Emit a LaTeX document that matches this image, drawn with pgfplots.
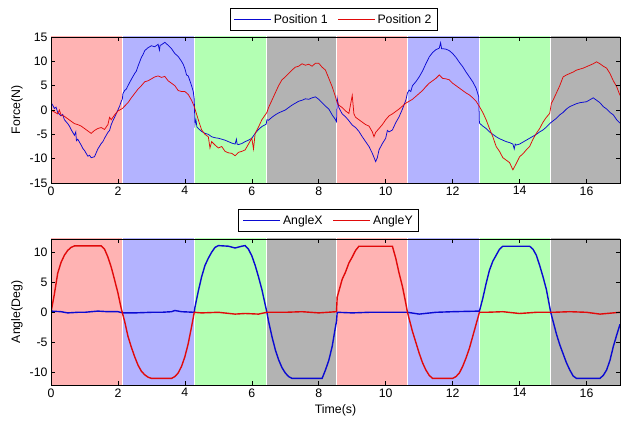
\documentclass[border=0pt]{standalone}
\usepackage{pgfplots}
\pgfplotsset{compat=1.18}
\usepackage{fontspec}
\setmainfont{Liberation Sans}
\definecolor{bandR}{RGB}{255,179,179}
\definecolor{bandB}{RGB}{179,179,255}
\definecolor{bandG}{RGB}{179,255,179}
\definecolor{bandK}{RGB}{179,179,179}
\definecolor{lineB}{RGB}{10,10,210}
\definecolor{lineR}{RGB}{225,10,10}
\newcommand{\fs}{\fontsize{12.3}{14}\selectfont}
\pgfplotsset{
  mystyle/.style={
    scale only axis, width=569pt, height=146pt,
    xmin=0, xmax=17, xtick={0,2,...,16},
    tick align=inside, major tick length=4pt,
    axis line style={line width=0.6pt},
    tick style={black, line width=0.6pt},
    ticklabel style={font=\fs},
    label style={font=\fs},
    /pgf/number format/assume math mode=true,
    axis on top, clip=true,
    legend columns=-1,
    legend image code/.code={\draw[##1] (0pt,0pt) -- (37pt,0pt);},
    legend style={font=\fs, draw=black, line width=0.6pt, fill=white,
      inner xsep=4pt, inner ysep=4pt,
      /tikz/every even column/.append style={column sep=8pt}},
    ylabel style={at={(axis description cs:-0.06,0.5)}, anchor=center},
  }
}
\begin{document}
\begin{tikzpicture}
\path[use as bounding box] (0pt,0pt) rectangle (621pt,423pt);
% ---------------- top axis ----------------
\begin{axis}[mystyle, at={(51pt,240pt)}, anchor=south west,
  ymin=-15, ymax=15, ytick={-15,-10,...,15},
  ylabel={Force(N)},
  legend style={at={(axis description cs:0.497,1.041)}, anchor=south}]
\addplot[fill=bandR, draw=none, forget plot] coordinates {(0,-20) (0,20) (2.13,20) (2.13,-20)} -- cycle;
\addplot[fill=bandB, draw=none, forget plot] coordinates {(2.13,-20) (2.13,20) (4.29,20) (4.29,-20)} -- cycle;
\addplot[fill=bandG, draw=none, forget plot] coordinates {(4.29,-20) (4.29,20) (6.45,20) (6.45,-20)} -- cycle;
\addplot[fill=bandK, draw=none, forget plot] coordinates {(6.45,-20) (6.45,20) (8.53,20) (8.53,-20)} -- cycle;
\addplot[fill=bandR, draw=none, forget plot] coordinates {(8.53,-20) (8.53,20) (10.65,20) (10.65,-20)} -- cycle;
\addplot[fill=bandB, draw=none, forget plot] coordinates {(10.65,-20) (10.65,20) (12.8,20) (12.8,-20)} -- cycle;
\addplot[fill=bandG, draw=none, forget plot] coordinates {(12.8,-20) (12.8,20) (14.93,20) (14.93,-20)} -- cycle;
\addplot[fill=bandK, draw=none, forget plot] coordinates {(14.93,-20) (14.93,20) (17,20) (17,-20)} -- cycle;
\addplot[white, line width=1.2pt, forget plot] coordinates {(2.13,-20) (2.13,20)};
\addplot[white, line width=1.2pt, forget plot] coordinates {(4.29,-20) (4.29,20)};
\addplot[white, line width=1.2pt, forget plot] coordinates {(6.45,-20) (6.45,20)};
\addplot[white, line width=1.2pt, forget plot] coordinates {(8.53,-20) (8.53,20)};
\addplot[white, line width=1.2pt, forget plot] coordinates {(10.65,-20) (10.65,20)};
\addplot[white, line width=1.2pt, forget plot] coordinates {(12.8,-20) (12.8,20)};
\addplot[white, line width=1.2pt, forget plot] coordinates {(14.93,-20) (14.93,20)};
% Position 1
\addplot[lineB, line width=0.75pt] coordinates {
(0.00,1.5) (0.05,1.0) (0.1,0.3) (0.15,0.6) (0.2,-0.5) (0.3,-1.2) (0.35,-0.9) (0.4,-2.0) (0.5,-2.8) (0.55,-3.3) (0.6,-4.0) (0.7,-5.2) (0.74,-4.5) (0.76,-6.3) (0.8,-6.0) (0.9,-7.2) (0.95,-7.9) (1.0,-8.3) (1.05,-8.9) (1.1,-9.5) (1.15,-9.3) (1.2,-9.8) (1.3,-9.6) (1.35,-8.8) (1.4,-8.0) (1.5,-6.9) (1.55,-6.5) (1.6,-5.8) (1.7,-4.6) (1.75,-4.2) (1.8,-3.0) (1.85,-2.2) (1.9,-1.5) (2.0,0.0) (2.05,0.8) (2.1,1.8) (2.13,2.2)
(2.15,3.4) (2.2,4.0) (2.25,4.3) (2.3,5.0) (2.4,6.3) (2.5,7.5) (2.55,8.0) (2.6,9.0) (2.7,10.8) (2.75,11.4) (2.8,12.2) (2.9,12.8) (3.0,13.2) (3.1,13.0) (3.2,13.5) (3.24,12.3) (3.26,13.3) (3.3,13.4) (3.4,13.9) (3.45,13.6) (3.5,13.3) (3.6,12.6) (3.7,11.6) (3.8,11.0) (3.9,10.0) (3.95,9.4) (4.0,8.5) (4.05,7.2) (4.1,7.0) (4.15,6.0) (4.2,5.0) (4.25,3.8) (4.28,2.2)
(4.3,-3.0) (4.33,-2.0) (4.36,-3.5) (4.4,-3.8) (4.5,-4.4) (4.6,-4.8) (4.7,-5.0) (4.8,-5.5) (4.9,-5.7) (5.0,-5.8) (5.1,-6.0) (5.2,-6.2) (5.3,-6.5) (5.4,-6.8) (5.5,-7.0) (5.54,-6.0) (5.56,-7.0) (5.6,-7.1) (5.7,-6.9) (5.8,-6.5) (5.9,-6.2) (6.0,-5.8) (6.1,-4.8) (6.2,-4.0) (6.3,-3.4) (6.43,-2.9)
(6.45,-2.0) (6.5,-2.1) (6.6,-1.5) (6.7,-1.0) (6.8,-0.6) (6.9,-0.3) (7.0,0.0) (7.1,0.5) (7.2,1.0) (7.3,1.4) (7.4,1.8) (7.5,2.0) (7.6,2.3) (7.7,2.2) (7.8,2.5) (7.9,2.7) (8.0,2.2) (8.1,1.5) (8.2,0.8) (8.3,0.2) (8.4,-1.0) (8.5,-2.0) (8.53,-2.4)
(8.55,2.4) (8.6,0.5) (8.7,-0.8) (8.8,-1.4) (8.9,-2.2) (9.0,-3.1) (9.1,-3.6) (9.2,-4.4) (9.3,-5.5) (9.4,-6.5) (9.5,-7.5) (9.6,-8.9) (9.7,-10.6) (9.75,-9.8) (9.8,-8.2) (9.9,-6.9) (10.0,-5.8) (10.05,-4.2) (10.1,-4.5) (10.2,-4.1) (10.3,-2.6) (10.4,-1.4) (10.5,0.2) (10.6,2.0)
(10.65,3.5) (10.7,4.1) (10.75,3.8) (10.8,5.0) (10.9,5.8) (11.0,6.8) (11.1,8.0) (11.2,9.5) (11.3,10.9) (11.4,11.8) (11.5,12.4) (11.6,12.7) (11.64,13.8) (11.67,12.6) (11.7,12.6) (11.8,12.5) (11.9,12.2) (12.0,11.6) (12.1,10.8) (12.2,9.8) (12.3,8.9) (12.4,7.8) (12.5,6.8) (12.6,5.8) (12.7,4.5) (12.78,2.7)
(12.8,-2.7) (12.9,-3.3) (13.0,-3.8) (13.1,-4.5) (13.2,-5.0) (13.3,-5.5) (13.4,-5.9) (13.5,-6.2) (13.6,-6.5) (13.7,-6.7) (13.8,-7.0) (13.84,-8.0) (13.87,-7.0) (13.9,-7.2) (14.0,-7.0) (14.1,-6.6) (14.2,-6.2) (14.3,-5.8) (14.4,-5.4) (14.5,-5.0) (14.6,-4.5) (14.7,-4.1) (14.8,-3.5) (14.9,-2.8)
(14.95,-2.5) (15.1,-1.7) (15.2,-1.0) (15.3,-0.5) (15.4,0.2) (15.5,0.7) (15.6,1.0) (15.7,1.3) (15.8,1.5) (15.9,1.6) (16.0,1.7) (16.1,2.1) (16.2,2.5) (16.3,2.0) (16.4,1.5) (16.5,0.7) (16.6,0.2) (16.7,-0.5) (16.8,-1.0) (16.9,-2.0) (17.0,-2.7)
};
\addlegendentry{Position 1}
% Position 2
\addplot[lineR, line width=0.75pt] coordinates {
(0.0,0.0) (0.1,-0.4) (0.2,-0.8) (0.25,0.0) (0.3,-1.0) (0.4,-1.3) (0.5,-1.8) (0.6,-2.3) (0.7,-2.8) (0.8,-3.0) (0.9,-3.3) (1.0,-3.8) (1.1,-4.3) (1.2,-4.8) (1.3,-4.2) (1.4,-3.8) (1.5,-3.6) (1.6,-4.0) (1.7,-3.0) (1.75,-1.5) (1.8,-2.0) (1.9,-1.0) (2.0,-0.2) (2.13,0.3)
(2.2,0.8) (2.3,1.5) (2.4,2.5) (2.5,3.4) (2.6,4.3) (2.7,5.0) (2.8,5.8) (2.9,6.0) (3.0,6.4) (3.1,6.8) (3.2,7.0) (3.3,6.7) (3.4,6.9) (3.5,6.0) (3.6,5.5) (3.7,5.0) (3.8,4.0) (3.9,3.8) (4.0,3.8) (4.1,3.2) (4.2,2.0) (4.28,0.7)
(4.4,-2.0) (4.5,-4.1) (4.6,-5.0) (4.7,-5.5) (4.75,-7.8) (4.8,-6.5) (4.9,-7.2) (5.0,-7.8) (5.1,-7.5) (5.2,-8.5) (5.3,-8.8) (5.4,-8.9) (5.5,-9.4) (5.6,-8.7) (5.7,-8.5) (5.8,-8.2) (5.9,-7.0) (6.0,-5.8) (6.05,-8.0) (6.1,-4.8) (6.2,-3.5) (6.3,-2.0) (6.4,-1.0)
(6.45,-0.5) (6.5,0.5) (6.6,2.0) (6.7,3.5) (6.8,5.0) (6.9,6.2) (7.0,6.8) (7.1,7.5) (7.2,8.2) (7.3,8.8) (7.4,9.0) (7.5,9.5) (7.6,9.2) (7.7,9.4) (7.8,9.0) (7.9,9.6) (8.0,9.6) (8.1,8.8) (8.2,8.2) (8.3,6.5) (8.4,4.8) (8.5,2.7)
(8.55,1.5) (8.6,1.0) (8.7,0.5) (8.8,-0.2) (8.9,-0.7) (9.0,3.0) (9.05,-0.8) (9.1,-1.5) (9.2,-2.0) (9.3,-2.5) (9.4,-3.0) (9.5,-3.3) (9.6,-4.5) (9.65,-5.5) (9.7,-4.6) (9.8,-3.8) (9.9,-3.0) (10.0,-2.0) (10.1,-1.2) (10.2,-0.8) (10.3,-0.3) (10.4,0.2) (10.5,0.8) (10.6,1.4)
(10.7,1.8) (10.8,2.2) (10.9,2.8) (11.0,3.4) (11.1,4.0) (11.2,4.8) (11.3,5.5) (11.4,6.0) (11.5,6.5) (11.6,7.2) (11.7,6.5) (11.8,6.4) (11.9,6.2) (12.0,5.5) (12.1,5.0) (12.2,4.5) (12.3,4.0) (12.4,3.5) (12.5,3.1) (12.6,2.5) (12.7,1.8) (12.8,0.7)
(12.9,-0.5) (13.0,-2.0) (13.1,-3.8) (13.2,-5.5) (13.3,-7.5) (13.4,-8.5) (13.5,-9.8) (13.6,-10.3) (13.7,-10.8) (13.8,-12.3) (13.9,-11.0) (14.0,-9.6) (14.1,-9.0) (14.2,-8.2) (14.3,-7.5) (14.4,-6.0) (14.5,-4.8) (14.6,-3.8) (14.7,-2.5) (14.8,-1.5) (14.9,-0.7)
(14.95,1.4) (15.0,2.0) (15.1,3.5) (15.2,5.0) (15.3,6.8) (15.4,7.2) (15.5,7.5) (15.6,7.8) (15.7,8.2) (15.8,8.4) (15.9,8.6) (16.0,8.9) (16.1,9.2) (16.2,9.5) (16.3,9.9) (16.4,9.5) (16.5,9.0) (16.6,8.6) (16.7,7.5) (16.8,6.0) (16.9,4.8) (17.0,3.0)
};
\addlegendentry{Position 2}
\end{axis}
% ---------------- bottom axis ----------------
\begin{axis}[mystyle, at={(51pt,38pt)}, anchor=south west,
  ymin=-12.1, ymax=12.2, ytick={-10,-5,...,10},
  ylabel={Angle(Deg)}, xlabel={Time(s)},
  xlabel style={at={(axis description cs:0.5,-0.171)}, anchor=center},
  legend style={at={(axis description cs:0.488,1.048)}, anchor=south}]
\addplot[fill=bandR, draw=none, forget plot] coordinates {(0,-20) (0,20) (2.13,20) (2.13,-20)} -- cycle;
\addplot[fill=bandB, draw=none, forget plot] coordinates {(2.13,-20) (2.13,20) (4.29,20) (4.29,-20)} -- cycle;
\addplot[fill=bandG, draw=none, forget plot] coordinates {(4.29,-20) (4.29,20) (6.45,20) (6.45,-20)} -- cycle;
\addplot[fill=bandK, draw=none, forget plot] coordinates {(6.45,-20) (6.45,20) (8.53,20) (8.53,-20)} -- cycle;
\addplot[fill=bandR, draw=none, forget plot] coordinates {(8.53,-20) (8.53,20) (10.65,20) (10.65,-20)} -- cycle;
\addplot[fill=bandB, draw=none, forget plot] coordinates {(10.65,-20) (10.65,20) (12.8,20) (12.8,-20)} -- cycle;
\addplot[fill=bandG, draw=none, forget plot] coordinates {(12.8,-20) (12.8,20) (14.93,20) (14.93,-20)} -- cycle;
\addplot[fill=bandK, draw=none, forget plot] coordinates {(14.93,-20) (14.93,20) (17,20) (17,-20)} -- cycle;
\addplot[white, line width=1.2pt, forget plot] coordinates {(2.13,-20) (2.13,20)};
\addplot[white, line width=1.2pt, forget plot] coordinates {(4.29,-20) (4.29,20)};
\addplot[white, line width=1.2pt, forget plot] coordinates {(6.45,-20) (6.45,20)};
\addplot[white, line width=1.2pt, forget plot] coordinates {(8.53,-20) (8.53,20)};
\addplot[white, line width=1.2pt, forget plot] coordinates {(10.65,-20) (10.65,20)};
\addplot[white, line width=1.2pt, forget plot] coordinates {(12.8,-20) (12.8,20)};
\addplot[white, line width=1.2pt, forget plot] coordinates {(14.93,-20) (14.93,20)};
% AngleX
\addplot[lineB, line width=1.4pt] coordinates {
(0,0.2) (0.3,0.1) (0.5,-0.1) (0.8,0.0) (1.0,0.0) (1.2,0.1) (1.4,0.2) (1.7,0.1) (2.0,0.1) (2.15,-0.1) (2.5,-0.1) (3.0,0.0) (3.3,0.0) (3.6,0.1) (3.7,0.3) (3.9,0.1) (4.28,0.0)
(4.3,0.8) (4.4,3.5) (4.5,5.9) (4.6,7.8) (4.7,9.0) (4.8,10.0) (4.9,10.8) (5.0,11.1) (5.3,11.0) (5.5,10.7) (5.7,11.0) (5.8,11.1) (5.9,10.5) (6.0,9.4) (6.1,7.8) (6.2,5.9) (6.3,3.8) (6.45,0.0)
(6.5,-1.5) (6.6,-4.0) (6.7,-6.2) (6.8,-7.9) (6.9,-9.2) (7.0,-10.1) (7.1,-10.7) (7.2,-11.0) (8.1,-11.0) (8.2,-9.6) (8.3,-8.0) (8.4,-5.7) (8.5,-2.4) (8.53,-1.5)
(8.55,0.0) (9.0,-0.1) (9.5,0.0) (10.0,0.0) (10.65,0.0) (11.0,-0.3) (11.5,0.0) (12.0,0.1) (12.8,0.2)
(12.9,2.3) (13.0,4.8) (13.1,7.0) (13.2,8.5) (13.3,9.5) (13.4,10.5) (13.5,11.0) (14.3,11.0) (14.4,10.5) (14.5,9.5) (14.6,7.8) (14.7,5.9) (14.8,3.8) (14.93,0.0)
(15.1,-3.6) (15.2,-5.4) (15.3,-6.9) (15.4,-8.4) (15.5,-9.6) (15.6,-10.6) (15.7,-11.0) (16.4,-11.0) (16.5,-10.5) (16.6,-9.6) (16.7,-8.0) (16.8,-5.7) (16.9,-3.8) (17.0,-2.0)
};
\addlegendentry{AngleX}
% AngleY
\addplot[lineR, line width=1.4pt] coordinates {
(0.0,0.0) (0.05,1.5) (0.1,3.0) (0.2,6.5) (0.3,8.3) (0.4,9.5) (0.5,10.3) (0.6,10.8) (0.7,11.05) (1.5,11.05) (1.6,10.5) (1.7,9.2) (1.8,7.5) (1.9,5.4) (2.0,3.2) (2.1,0.6)
(2.2,-1.5) (2.3,-4.0) (2.4,-5.8) (2.5,-7.4) (2.6,-8.8) (2.7,-9.8) (2.8,-10.4) (2.9,-10.8) (3.0,-11.0) (3.6,-11.0) (3.7,-10.7) (3.8,-10.1) (3.9,-9.0) (4.0,-7.4) (4.1,-5.2) (4.2,-2.4) (4.28,0.0)
(4.5,-0.1) (5.0,0.0) (5.5,-0.3) (5.8,-0.2) (6.2,-0.3) (6.45,0.0) (7.0,0.0) (7.5,0.1) (8.0,-0.1) (8.53,0.1)
(8.55,2.5) (8.7,5.5) (8.8,6.7) (8.9,8.2) (9.0,9.2) (9.1,10.3) (9.2,11.0) (10.2,11.0) (10.3,9.0) (10.4,6.5) (10.5,4.3) (10.6,1.5) (10.65,0.0)
(10.8,-3.2) (10.9,-5.0) (11.0,-6.8) (11.1,-8.4) (11.2,-9.6) (11.3,-10.5) (11.4,-11.0) (12.0,-11.0) (12.1,-10.7) (12.2,-10.1) (12.3,-9.0) (12.4,-7.6) (12.5,-6.0) (12.6,-4.0) (12.7,-2.0) (12.8,0.0)
(13.0,0.0) (13.5,0.1) (14.0,-0.2) (14.5,0.0) (15.0,0.0) (15.5,0.1) (16.0,0.0) (16.4,-0.3) (17.0,0.0)
};
\addlegendentry{AngleY}
\end{axis}
\end{tikzpicture}
\end{document}
